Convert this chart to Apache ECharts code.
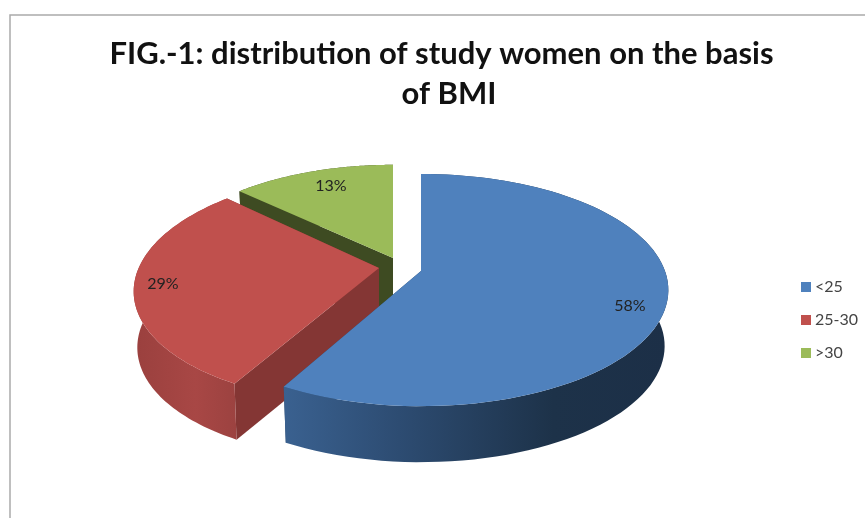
<!DOCTYPE html>
<html>
<head>
<meta charset="utf-8">
<style>html,body{margin:0;padding:0;background:#fff}#c{width:865px;height:518px}</style>
<script src="https://cdn.jsdelivr.net/npm/echarts@6/dist/echarts.min.js"></script>
</head>
<body>
<div id="c"></div>
<script>
const titleText = 'FIG.-1: distribution of study women on the basis  \nof BMI';
const categories = ['<25', '25-30', '>30'];
const values = [58, 29, 13];
const colors = ['#4f81bd', '#c0504d', '#9bbb59'];
const total = values.reduce((a, b) => a + b, 0);

// layout of the tilted, exploded pie (apex of each slice, radii, tilt)
const RX = 244, RY = 113, K = 0.164, DEPTH = 56, LOWER = 0.985;
const layout = [
  { ax: 421, ay: 271, a: 1.0, b: 1.0, shear: 0, lx: 209, ly: 35,
    cut: '#2c4868', side: [[0, '#3a6190'], [0.3, '#2d4c72'], [0.7, '#1d3249'], [1, '#1c2f47']] },
  { ax: 379, ay: 268, a: 0.985, b: 1.0, shear: -0.08, lx: -216, ly: 16,
    cut: '#843634', side: [[0, '#9a403e'], [0.6, '#a84745'], [1, '#9c4240']] },
  { ax: 393, ay: 258, a: 0.96, b: 0.96, shear: 0, lx: -62, ly: -72,
    cut: '#3e4b22', side: [[0, '#3e4b22'], [1, '#3e4b22']] }
];

function project(p, angle, radius, lower) {
  const u = Math.sin(angle) * radius, v = -Math.cos(angle) * radius;
  const d = 1 - K * v;
  const s = lower ? LOWER : 1;
  const dx = RX * p.a * u / d * s, dy = RY * p.b * v / d;
  return [p.ax + dx + p.shear * dy, p.ay + dy + (lower ? DEPTH : 0)];
}

function arc(p, a0, a1, lower) {
  const n = 90, pts = [];
  for (let i = 0; i <= n; i++) pts.push(project(p, a0 + (a1 - a0) * i / n, 1, lower));
  return pts;
}

function sliceRender(idx) {
  return function () {
    const p = layout[idx];
    const before = values.slice(0, idx).reduce((a, b) => a + b, 0);
    const a0 = before / total * 2 * Math.PI;
    const a1 = (before + values[idx]) / total * 2 * Math.PI;
    const top = arc(p, a0, a1, false), low = arc(p, a0, a1, true);
    const apex = project(p, 0, 0, false), apexLow = project(p, 0, 0, true);
    const grad = new echarts.graphic.LinearGradient(0, 0, 1, 0,
      p.side.map(s => ({ offset: s[0], color: s[1] })));
    const quad = (i) => ({
      type: 'polygon',
      shape: { points: [apex, top[i], low[i], apexLow] },
      style: { fill: p.cut }
    });
    return {
      type: 'group',
      children: [
        quad(top.length - 1),
        quad(0),
        { type: 'polygon', shape: { points: top.concat(low.slice().reverse()) }, style: { fill: grad } },
        { type: 'polygon', shape: { points: [apex].concat(top) }, style: { fill: colors[idx] } },
        { type: 'text', style: {
            text: values[idx] + '%', x: p.ax + p.lx, y: p.ay + p.ly,
            align: 'center', verticalAlign: 'middle',
            font: '16px Lato', fill: '#222' } }
      ]
    };
  };
}

const chart = echarts.init(document.getElementById('c'), null, { renderer: 'canvas' });
// painted back to front: far slices first, legend order kept through the legend data
const order = [2, 1, 0];
chart.setOption({
  animation: false,
  backgroundColor: '#fff',
  title: {
    text: titleText, left: 444, top: 29, textAlign: 'center',
    textStyle: { fontFamily: 'Lato', fontWeight: 'bold', fontSize: 31, lineHeight: 40, color: '#111' }
  },
  legend: {
    orient: 'vertical', left: 796, top: 274, icon: 'rect',
    itemWidth: 10, itemHeight: 10, itemGap: 17,
    data: categories,
    textStyle: { fontFamily: 'Lato', fontSize: 16, color: '#444', padding: [0, 0, 0, -1] }
  },
  graphic: [{
    type: 'rect', silent: true, z: -1,
    shape: { x: 10, y: 15, width: 900, height: 560 },
    style: { fill: 'none', stroke: '#aaa', lineWidth: 1.5 }
  }],
  series: order.map(i => ({
    type: 'custom', name: categories[i], coordinateSystem: 'none',
    itemStyle: { color: colors[i] },
    data: [values[i]],
    renderItem: sliceRender(i)
  }))
});
</script>
</body>
</html>
